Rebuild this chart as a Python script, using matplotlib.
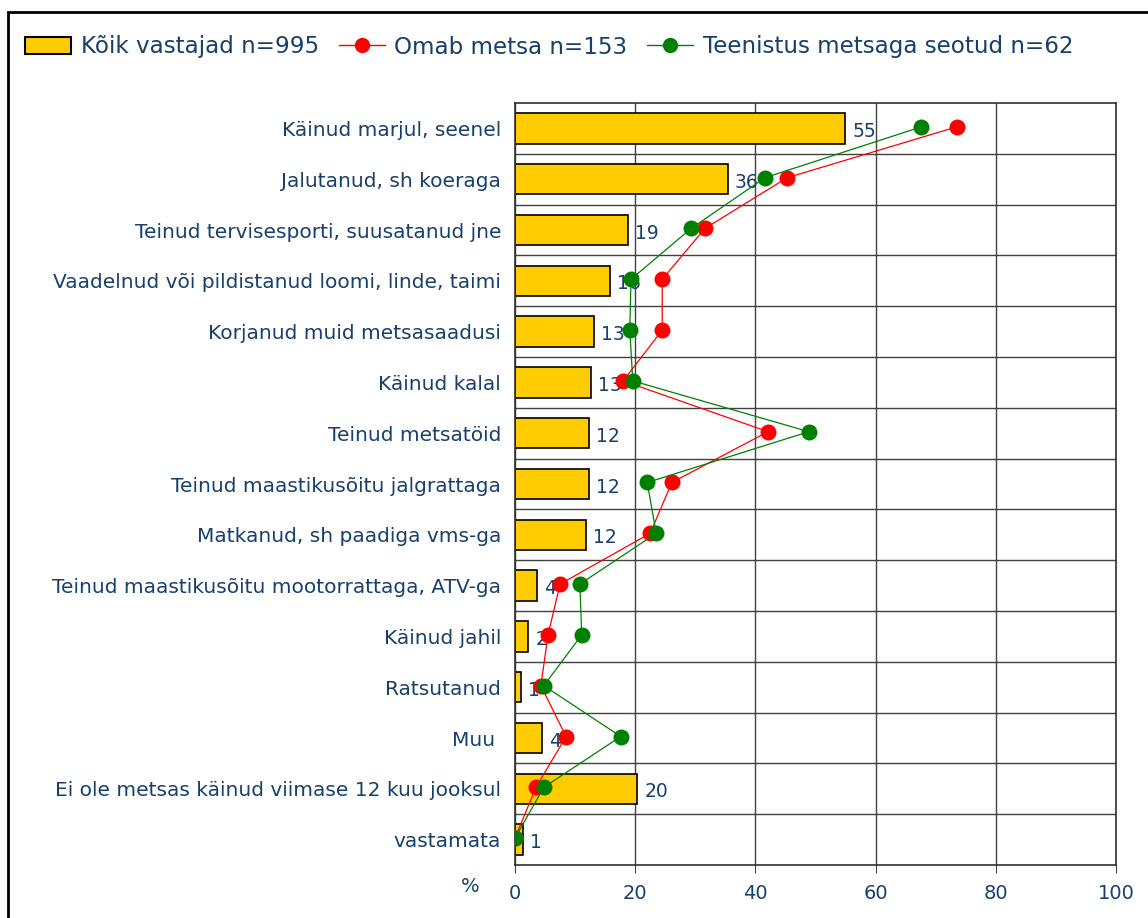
import matplotlib.pyplot as plt
import numpy as np
from matplotlib.patches import Rectangle
from matplotlib.lines import Line2D

# andmed
categories = [
    "Käinud marjul, seenel",
    "Jalutanud, sh koeraga",
    "Teinud tervisesporti, suusatanud jne",
    "Vaadelnud või pildistanud loomi, linde, taimi",
    "Korjanud muid metsasaadusi",
    "Käinud kalal",
    "Teinud metsatöid",
    "Teinud maastikusõitu jalgrattaga",
    "Matkanud, sh paadiga vms-ga",
    "Teinud maastikusõitu mootorrattaga, ATV-ga",
    "Käinud jahil",
    "Ratsutanud",
    "Muu ",
    "Ei ole metsas käinud viimase 12 kuu jooksul",
    "vastamata",
]
koik = [54.9, 35.4, 18.8, 15.8, 13.1, 12.6, 12.3, 12.3, 11.8, 3.7, 2.2, 1.0, 4.5, 20.3, 1.3]
koik_labels = ["55", "36", "19", "16", "13", "13", "12", "12", "12", "4", "2", "1", "4", "20", "1"]
omab = [73.5, 45.3, 31.6, 24.5, 24.5, 18.0, 42.1, 26.1, 22.5, 7.5, 5.5, 4.3, 8.5, 3.5, 0.0]
teenistus = [67.6, 41.6, 29.3, 19.3, 19.1, 19.6, 48.9, 22.0, 23.5, 10.8, 11.1, 4.8, 17.6, 4.8, 0.0]

legend_labels = ["Kõik vastajad n=995", "Omab metsa n=153", "Teenistus metsaga seotud n=62"]

txt_color = "#17406D"
bar_color = "#FFCC00"

fig = plt.figure(figsize=(11.48, 9.18), dpi=100)
ax = fig.add_axes([0.4486, 0.0577, 0.5235, 0.8301])

y = np.arange(len(categories))
ax.barh(y, koik, height=0.6, color=bar_color, edgecolor="black", linewidth=1.2, zorder=2)
for yi, v, lab in zip(y, koik, koik_labels):
    ax.text(v + 1.2, yi + 0.06, lab, va="center", ha="left", fontsize=13.5, color=txt_color, zorder=3)

ax.plot(omab, y - 0.03, color="red", linewidth=0.9, marker="o", markersize=11.5,
        markeredgewidth=0, zorder=4)
ax.plot(teenistus, y - 0.03, color="green", linewidth=0.9, marker="o", markersize=11.5,
        markeredgewidth=0, zorder=5)

ax.set_xlim(0, 100)
ax.set_ylim(len(categories) - 0.5, -0.5)
ax.set_xticks([0, 20, 40, 60, 80, 100])
ax.set_yticks(y)
ax.set_yticklabels(categories)
ax.set_yticks(np.arange(0.5, len(categories) - 0.5, 1), minor=True)
ax.tick_params(axis="y", which="major", length=0, pad=10, labelsize=14.5, labelcolor=txt_color)
ax.tick_params(axis="y", which="minor", length=5, direction="in", color="#404040")
ax.tick_params(axis="x", length=6, direction="out", color="#404040", pad=8,
               labelsize=14, labelcolor=txt_color)
ax.grid(axis="x", which="major", color="#404040", linewidth=1, zorder=0)
ax.grid(axis="y", which="minor", color="#404040", linewidth=1, zorder=0)
ax.set_axisbelow(True)
for s in ax.spines.values():
    s.set_color("#303030")
    s.set_linewidth(1.2)

fig.text(470 / 1148, 1 - 886 / 918, "%", fontsize=14, color=txt_color, ha="center", va="center")

# raam ümber joonise
fig.patches.append(Rectangle((8 / 1148, -0.05), 1.2, 1 - 12 / 918 + 0.05,
                             transform=fig.transFigure, fill=False,
                             edgecolor="black", linewidth=2))

handles = [
    Rectangle((0, 0), 1, 1, facecolor=bar_color, edgecolor="black", linewidth=1.5),
    Line2D([], [], color="red", linewidth=1, marker="o", markersize=11, markeredgewidth=0),
    Line2D([], [], color="green", linewidth=1, marker="o", markersize=11, markeredgewidth=0),
]
leg = fig.legend(handles, legend_labels, loc="center left", bbox_to_anchor=(25 / 1148, 1 - 47 / 918),
                 ncol=3, frameon=False, fontsize=16.6, handlelength=2.0, handleheight=0.7,
                 handletextpad=0.42, columnspacing=0.85, borderaxespad=0, borderpad=0)
for t in leg.get_texts():
    t.set_color(txt_color)

fig.savefig("out.png", dpi=100)
